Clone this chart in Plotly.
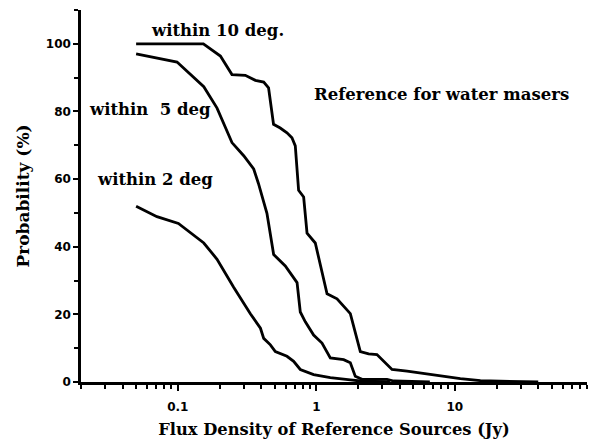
import math
import plotly.graph_objects as go

# Flux density of reference sources (Jy) vs. probability (%) of finding one
ten_deg_x = [0.05, 0.153, 0.203, 0.246, 0.307, 0.363, 0.417, 0.452, 0.491, 0.549, 0.614,
             0.667, 0.705, 0.745, 0.810, 0.857, 0.983, 1.195, 1.411, 1.76, 2.078, 2.386,
             2.74, 2.98, 3.52, 4.52, 6.66, 8.78, 10.96, 15.3, 26.4, 40.0]
ten_deg_y = [100, 100, 96.4, 90.9, 90.7, 89.2, 88.7, 87.0, 76.2, 75.1, 73.7,
             72.2, 69.8, 56.7, 54.7, 44.0, 41.1, 26.1, 24.6, 20.2, 9.0, 8.3,
             8.1, 6.6, 3.7, 3.2, 2.2, 1.7, 1.0, 0.4, 0.2, 0.0]

five_deg_x = [0.05, 0.0987, 0.154, 0.192, 0.246, 0.299, 0.353, 0.382, 0.44, 0.492, 0.597,
              0.686, 0.726, 0.766, 0.833, 0.956, 1.099, 1.262, 1.575, 1.76, 1.91, 2.14,
              3.24, 3.62, 6.6]
five_deg_y = [97.0, 94.6, 87.3, 81.0, 70.8, 66.9, 63.0, 58.7, 49.9, 37.7, 34.3,
              30.9, 29.4, 20.7, 17.8, 13.9, 11.5, 7.1, 6.6, 5.7, 1.7, 0.8,
              0.8, 0.3, 0.0]

two_deg_x = [0.05, 0.0707, 0.101, 0.154, 0.192, 0.253, 0.334, 0.395, 0.417, 0.466, 0.506,
             0.614, 0.686, 0.766, 0.956, 1.262, 1.76, 2.08, 3.4]
two_deg_y = [52.0, 48.9, 46.9, 41.1, 36.3, 28.0, 20.2, 15.9, 12.9, 11.0, 9.0,
             7.6, 6.1, 3.7, 2.2, 1.3, 0.6, 0.3, 0.0]

x_major = [0.1, 1, 10]
x_major_text = ["0.1", "1", "10"]
x_minor = [m * d for d in (0.01, 0.1, 1, 10) for m in range(2, 10)]
y_major = [0, 20, 40, 60, 80, 100]

SERIF = "DejaVu Serif"
SANS = "DejaVu Sans"

fig = go.Figure()
for xs, ys in ((ten_deg_x, ten_deg_y), (five_deg_x, five_deg_y), (two_deg_x, two_deg_y)):
    fig.add_trace(go.Scatter(x=xs, y=ys, mode="lines",
                             line=dict(color="black", width=2.8),
                             showlegend=False, hoverinfo="skip"))

labels = [
    ("within 10 deg.", 0.193, 104.0),
    ("within  5 deg", 0.0633, 80.7),
    ("within 2 deg", 0.0688, 60.0),
    ("Reference for water masers", 7.99, 85.0),
]
for text, lx, ly in labels:
    fig.add_annotation(x=math.log10(lx), y=ly, xref="x", yref="y", text=text,
                       showarrow=False, xanchor="center", yanchor="middle",
                       font=dict(family=SERIF, size=16.5, color="black", weight="bold"))

fig.update_layout(
    width=595, height=445,
    margin=dict(l=81, r=8, t=10, b=57),
    paper_bgcolor="white", plot_bgcolor="white",
    xaxis=dict(
        type="log", range=[math.log10(0.02), math.log10(90)],
        showline=True, linecolor="black", linewidth=2.5, showgrid=False, zeroline=False,
        tickmode="array", tickvals=x_major, ticktext=x_major_text,
        ticks="outside", ticklen=6, tickwidth=2, tickcolor="black",
        ticklabelstandoff=6,
        tickfont=dict(family=SANS, size=12, color="black", weight="bold"),
        minor=dict(tickvals=x_minor, ticks="outside", ticklen=4, tickwidth=2,
                   tickcolor="black", showgrid=False),
        title=dict(text="Flux Density of Reference Sources (Jy)", standoff=11,
                   font=dict(family=SERIF, size=16.3, color="black", weight="bold")),
    ),
    yaxis=dict(
        range=[0, 110],
        showline=True, linecolor="black", linewidth=2.5, showgrid=False, zeroline=False,
        tickmode="array", tickvals=y_major,
        ticks="outside", ticklen=5, tickwidth=2, tickcolor="black",
        tickfont=dict(family=SANS, size=12, color="black", weight="bold"),
        minor=dict(dtick=10, ticks="outside", ticklen=4, tickwidth=2,
                   tickcolor="black", showgrid=False),
        title=dict(text="Probability (%)", standoff=12,
                   font=dict(family=SERIF, size=17, color="black", weight="bold")),
    ),
)

fig.write_html("out.html")
